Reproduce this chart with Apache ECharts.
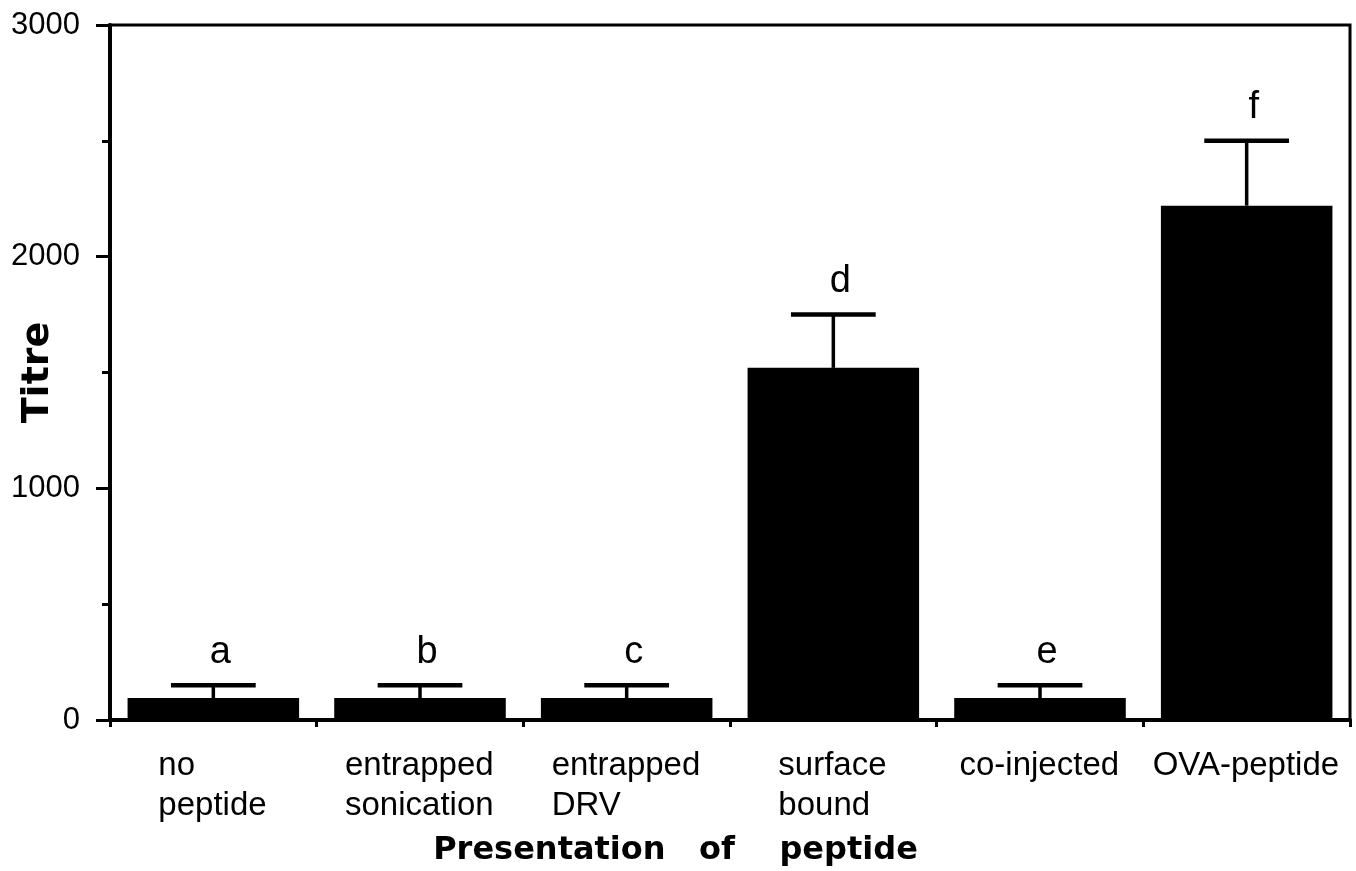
<!DOCTYPE html>
<html>
<head>
<meta charset="utf-8">
<script src="https://cdn.jsdelivr.net/npm/echarts@6/dist/echarts.min.js"></script>
<style>html,body{margin:0;padding:0;background:#fff}#c{width:1356px;height:871px}</style>
</head>
<body>
<div id="c"></div>
<script>
const categories = ['no\npeptide', 'entrapped\nsonication', 'entrapped\nDRV', 'surface\nbound', 'co-injected', 'OVA-peptide'];
const titreMean = [95, 95, 95, 1520, 95, 2220];
const titreErrorTop = [150, 150, 150, 1750, 150, 2500];
const groupLetters = ['a', 'b', 'c', 'd', 'e', 'f'];
const yTickValues = [0, 1000, 2000, 3000];

const catFontSize = 33;
const cv = document.createElement('canvas').getContext('2d');
cv.font = catFontSize + 'px "Liberation Sans"';
const rich = {};
categories.forEach((c, i) => {
  const w = Math.max(...c.split('\n').map(s => cv.measureText(s).width));
  rich['w' + i] = { width: Math.ceil(w) + 1, align: 'left', fontFamily: 'Liberation Sans', fontSize: catFontSize, lineHeight: 40, color: '#000' };
});

const chart = echarts.init(document.getElementById('c'), null, { renderer: 'canvas' });
chart.setOption({
  animation: false,
  backgroundColor: '#fff',
  grid: { left: 110, right: 6, top: 25, bottom: 151, show: true, borderColor: '#000', borderWidth: 3, containLabel: false, outerBoundsMode: 'none' },
  xAxis: {
    type: 'category',
    data: categories,
    name: 'Presentation   of    peptide',
    nameLocation: 'middle',
    nameGap: 115,
    nameMoveOverlap: false,
    nameTextStyle: { fontFamily: 'DejaVu Sans', fontWeight: 'bold', fontSize: 32, color: '#000', padding: [0, 109, 0, 0] },
    axisLine: { lineStyle: { color: '#000', width: 4 } },
    axisTick: { show: true, length: 7, lineStyle: { color: '#000', width: 3 } },
    axisLabel: {
      margin: 26,
      color: '#000',
      fontFamily: 'Liberation Sans',
      fontSize: catFontSize,
      lineHeight: 40,
      interval: 0,
      formatter: (v, i) => v.split('\n').map(s => '{w' + i + '|' + s + '}').join('\n'),
      rich: rich
    }
  },
  yAxis: {
    type: 'value',
    min: yTickValues[0],
    max: yTickValues[yTickValues.length - 1],
    interval: yTickValues[1] - yTickValues[0],
    name: 'Titre',
    nameLocation: 'middle',
    nameRotate: 90,
    nameGap: 53,
    nameMoveOverlap: false,
    nameTextStyle: { fontFamily: 'DejaVu Sans', fontWeight: 'bold', fontSize: 38, color: '#000' },
    axisLine: { show: true, lineStyle: { color: '#000', width: 4 } },
    axisTick: { show: true, length: 14, lineStyle: { color: '#000', width: 3 } },
    minorTick: { show: true, splitNumber: 2, length: 8, lineStyle: { color: '#000', width: 3 } },
    splitLine: { show: false },
    minorSplitLine: { show: false },
    axisLabel: { margin: 30, color: '#000', fontFamily: 'Liberation Sans', fontSize: 31, formatter: v => String(v) }
  },
  series: [
    {
      type: 'bar',
      data: titreMean,
      barCategoryGap: '17%',
      itemStyle: { color: '#000' },
      z: 2
    },
    {
      type: 'custom',
      z: 3,
      encode: { x: 0, y: [1, 2] },
      data: categories.map((c, i) => [i, titreMean[i], titreErrorTop[i]]),
      renderItem: function (params, api) {
        const i = api.value(0);
        const lo = api.coord([i, api.value(1)]);
        const hi = api.coord([i, api.value(2)]);
        const capHalf = api.size([1, 0])[0] * 0.205;
        return {
          type: 'group',
          children: [
            { type: 'line', shape: { x1: lo[0], y1: lo[1], x2: hi[0], y2: hi[1] }, style: { stroke: '#000', lineWidth: 3.5 } },
            { type: 'line', shape: { x1: hi[0] - capHalf, y1: hi[1], x2: hi[0] + capHalf, y2: hi[1] }, style: { stroke: '#000', lineWidth: 4.5 } },
            { type: 'text', x: hi[0] + 7, y: hi[1] - 33, style: { text: groupLetters[params.dataIndex], fill: '#000', font: '38px "Liberation Sans"', align: 'center', verticalAlign: 'middle' } }
          ]
        };
      }
    }
  ]
});
</script>
</body>
</html>
